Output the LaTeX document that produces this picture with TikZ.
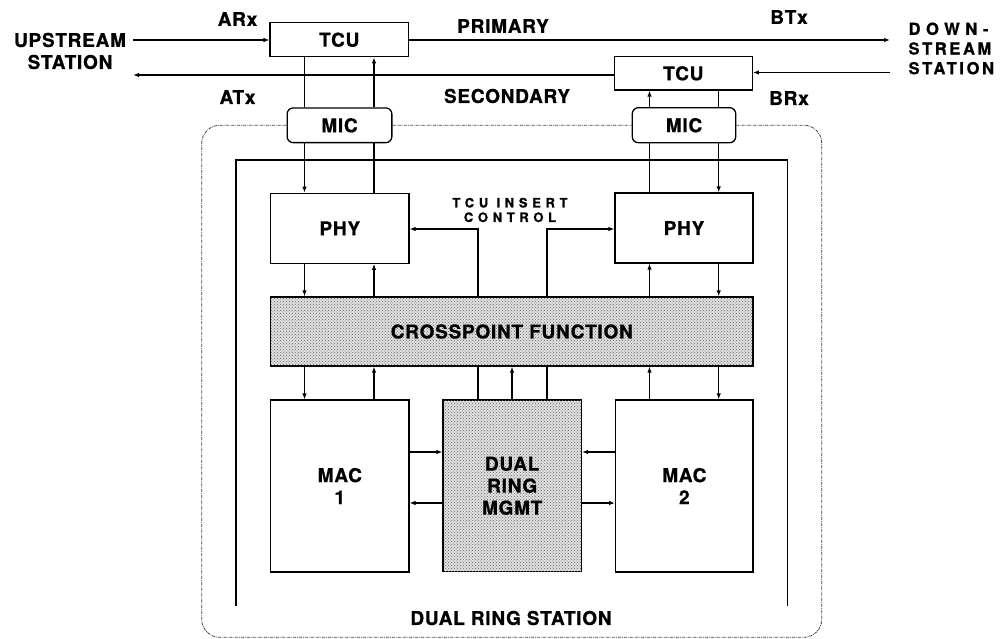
\documentclass[tikz,border=0pt]{standalone}
\usepackage{fontspec}
\setmainfont{TeX Gyre Heros}
\usetikzlibrary{arrows.meta,patterns}
\newcommand\mainlbl{\fontsize{19}{22}\selectfont\bfseries\addfontfeatures{LetterSpace=4,FakeBold=0.8}}
\newcommand\smalllbl{\fontsize{13}{14.5}\selectfont\bfseries\addfontfeatures{LetterSpace=36,FakeBold=0.8}}
\newcommand\rightlbl{\fontsize{16.5}{19.7}\selectfont\bfseries\addfontfeatures{LetterSpace=16,FakeBold=0.8}}
\begin{document}
\begin{tikzpicture}[x=1pt,y=-1pt, line width=1.1pt,
  box/.style={draw, line width=1.3pt, fill=white, inner sep=0pt, font=\mainlbl, align=center},
  micbox/.style={box, rounded corners=6pt},
  shaded/.style={fill=black!12, postaction={pattern=crosshatch dots, pattern color=black!60}},
  arr/.style={-{Latex[length=6pt,width=4.5pt]}},
  lbl/.style={font=\mainlbl, inner sep=0pt, align=center},
  ring/.style={line width=0.8pt, black!75, dash pattern=on 3pt off 1pt on 0.8pt off 1pt},
]
\useasboundingbox (0,0) rectangle (1000,639);

% boxes
\node[box, minimum width=138.3pt, minimum height=34pt] (tcu1) at (339.2,39.7) {TCU};
\node[box, minimum width=138pt, minimum height=33.3pt] (tcu2) at (683.3,73.3) {TCU};
\node[micbox, minimum width=104.7pt, minimum height=34.7pt] (mic1) at (339.5,125.3) {MIC};
\node[micbox, minimum width=103.4pt, minimum height=35pt] (mic2) at (684,125.2) {MIC};
\node[box, minimum width=138.3pt, minimum height=70pt] (phy1) at (339.8,228.3) {PHY};
\node[box, minimum width=138pt, minimum height=70pt] (phy2) at (684,228) {PHY};
\node[box, shaded, minimum width=482.3pt, minimum height=69pt] (cp) at (511.8,331.5) {CROSSPOINT FUNCTION};
\node[box, minimum width=138.3pt, minimum height=172pt] (mac1) at (339.8,486) {MAC\\1};
\node[box, shaded, minimum width=138.3pt, minimum height=171.5pt] (drm) at (512.2,485.8) {DUAL\\RING\\MGMT};
\node[box, minimum width=137.3pt, minimum height=172pt] (mac2) at (684.3,486) {MAC\\2};

% labels
\node[lbl] (up) at (70,51) {UPSTREAM\\STATION};
\node[lbl, font=\rightlbl, align=left, anchor=west] (down) at (908,48.5) {{\addfontfeatures{LetterSpace=34}DOWN-}\\STREAM\\STATION};
\node[lbl] (arx) at (237.5,19) {ARx};
\node[lbl] (atx) at (237.5,97) {ATx};
\node[lbl] (btx) at (789,17) {BTx};
\node[lbl] (brx) at (789,98) {BRx};
\node[lbl] (pri) at (503,26) {PRIMARY};
\node[lbl] (sec) at (507,96) {SECONDARY};
\node[lbl, font=\smalllbl] (tcuins) at (510,210) {TCU INSERT\\CONTROL};
\node[lbl] (drs) at (511,618) {DUAL RING STATION};

% station boundary (dotted) and inner frame
\coordinate (rbl) at (201.7,637.3);
\coordinate (rbr) at (821.7,637.3);
\draw[ring, rounded corners=18pt] (mic1.west) -- (mic1.west -| rbl) -- (rbl) -- (rbr) -- (mic2.east -| rbr) -- (mic2.east);
\draw[ring] (mic1.east) -- (mic2.west);
\coordinate (iTL) at (236,160);
\coordinate (iTR) at (787.5,160);
\coordinate (iBL) at (236,606);
\coordinate (iBR) at (787.5,606);
\draw[line width=1.2pt] (iBL) -- (iTL) -- (iTR) -- (iBR);

% column positions
\coordinate (xA) at (304.5,0);
\coordinate (xB) at (374,0);
\coordinate (xC) at (478,0);
\coordinate (xD) at (512,0);
\coordinate (xE) at (547,0);
\coordinate (xF) at (649.5,0);
\coordinate (xG) at (718.7,0);

% ring lines
\coordinate (upin) at (133,40);
\coordinate (priout) at (890,40);
\coordinate (secout) at (133,75);
\coordinate (downin) at (890,72.5);
\draw[arr] (upin) -- (tcu1.west |- upin);
\draw[arr] (tcu1.east |- priout) -- (priout);
\draw[arr] (tcu2.west |- secout) -- (secout);
\draw[arr] (downin) -- (tcu2.east |- downin);

% TCU - MIC - PHY
\draw (tcu1.south -| xA) -- (mic1.north -| xA);
\draw[arr] (mic1.north -| xB) -- (tcu1.south -| xB);
\draw[arr] (mic1.south -| xA) -- (phy1.north -| xA);
\draw (phy1.north -| xB) -- (mic1.south -| xB);
\draw (tcu2.south -| xG) -- (mic2.north -| xG);
\draw[arr] (mic2.north -| xF) -- (tcu2.south -| xF);
\draw[arr] (mic2.south -| xG) -- (phy2.north -| xG);
\draw (phy2.north -| xF) -- (mic2.south -| xF);

% PHY - crosspoint
\draw[arr] (phy1.south -| xA) -- (cp.north -| xA);
\draw[arr] (cp.north -| xB) -- (phy1.south -| xB);
\draw[arr] (cp.north -| xF) -- (phy2.south -| xF);
\draw[arr] (phy2.south -| xG) -- (cp.north -| xG);

% TCU insert control
\coordinate (yI) at (0,229);
\draw[arr] (cp.north -| xC) -- (yI -| xC) -- (phy1.east |- yI);
\draw[arr] (cp.north -| xE) -- (yI -| xE) -- (phy2.west |- yI);

% crosspoint - MAC / DRM
\draw[arr] (cp.south -| xA) -- (mac1.north -| xA);
\draw[arr] (mac1.north -| xB) -- (cp.south -| xB);
\draw (cp.south -| xC) -- (drm.north -| xC);
\draw[arr] (drm.north -| xD) -- (cp.south -| xD);
\draw (cp.south -| xE) -- (drm.north -| xE);
\draw[arr] (mac2.north -| xF) -- (cp.south -| xF);
\draw[arr] (cp.south -| xG) -- (mac2.north -| xG);

% MAC - DRM
\coordinate (yM1) at (0,452);
\coordinate (yM2) at (0,503);
\draw[arr] (mac1.east |- yM1) -- (drm.west |- yM1);
\draw[arr] (drm.west |- yM2) -- (mac1.east |- yM2);
\draw[arr] (mac2.west |- yM1) -- (drm.east |- yM1);
\draw[arr] (drm.east |- yM2) -- (mac2.west |- yM2);
\end{tikzpicture}
\end{document}
